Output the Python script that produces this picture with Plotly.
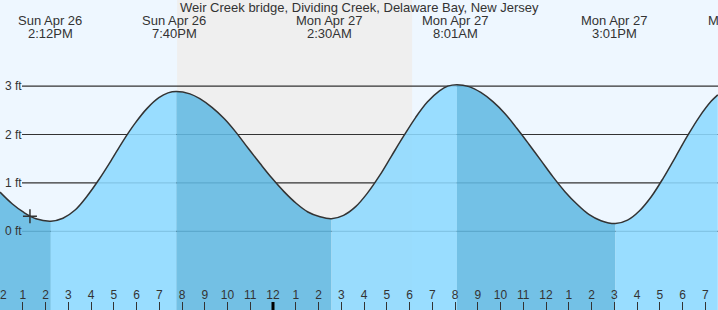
import plotly.graph_objects as go

# ---- data ----
title = "Weir Creek bridge, Dividing Creek, Delaware Bay, New Jersey"

times = [
    "2020-04-26 12:00", "2020-04-26 12:32", "2020-04-26 13:03", "2020-04-26 13:35",
    "2020-04-26 14:14", "2020-04-26 14:46", "2020-04-26 15:18", "2020-04-26 15:49",
    "2020-04-26 16:21", "2020-04-26 16:53", "2020-04-26 17:24", "2020-04-26 17:56",
    "2020-04-26 18:28", "2020-04-26 18:59", "2020-04-26 19:23", "2020-04-26 19:45",
    "2020-04-26 20:21", "2020-04-26 20:47", "2020-04-26 21:19", "2020-04-26 21:51",
    "2020-04-26 22:22", "2020-04-26 22:54", "2020-04-26 23:26", "2020-04-26 23:57",
    "2020-04-27 00:29", "2020-04-27 01:01", "2020-04-27 01:32", "2020-04-27 02:04",
    "2020-04-27 02:34", "2020-04-27 03:06", "2020-04-27 03:38", "2020-04-27 04:09",
    "2020-04-27 04:41", "2020-04-27 05:12", "2020-04-27 05:44", "2020-04-27 06:16",
    "2020-04-27 06:47", "2020-04-27 07:19", "2020-04-27 07:41", "2020-04-27 08:05",
    "2020-04-27 08:37", "2020-04-27 09:08", "2020-04-27 09:40", "2020-04-27 10:12",
    "2020-04-27 10:43", "2020-04-27 11:15", "2020-04-27 11:47", "2020-04-27 12:18",
    "2020-04-27 12:50", "2020-04-27 13:22", "2020-04-27 13:53", "2020-04-27 14:25",
    "2020-04-27 15:03", "2020-04-27 15:35", "2020-04-27 16:06", "2020-04-27 16:38",
    "2020-04-27 17:10", "2020-04-27 17:41", "2020-04-27 18:13", "2020-04-27 18:44",
    "2020-04-27 19:16", "2020-04-27 19:33",
]
heights = [
    0.81, 0.57, 0.39, 0.26,
    0.21, 0.27, 0.44, 0.72,
    1.07, 1.46, 1.86, 2.23,
    2.54, 2.76, 2.86, 2.89,
    2.84, 2.74, 2.56, 2.33,
    2.05, 1.72, 1.40, 1.10,
    0.82, 0.58, 0.40, 0.30,
    0.26, 0.33, 0.51, 0.79,
    1.15, 1.55, 1.96, 2.35,
    2.67, 2.90, 3.00, 3.03,
    2.99, 2.87, 2.68, 2.43,
    2.13, 1.80, 1.46, 1.13,
    0.82, 0.56, 0.35, 0.22,
    0.16, 0.23, 0.42, 0.72,
    1.11, 1.53, 1.97, 2.36,
    2.69, 2.82,
]

# tide extremes (labels at top)
extreme_times = ["2020-04-26 14:12", "2020-04-26 19:40", "2020-04-27 02:30",
                 "2020-04-27 08:01", "2020-04-27 15:01"]
extreme_day = ["Sun Apr 26", "Sun Apr 26", "Mon Apr 27", "Mon Apr 27", "Mon Apr 27"]
extreme_clock = ["2:12PM", "7:40PM", "2:30AM", "8:01AM", "3:01PM"]
next_extreme_hours = 44.6           # hours after 2020-04-26 00:00 (off chart, right)
next_extreme_day = "Mon Apr 27"
next_extreme_clock = "8:36PM"

now_time = "2020-04-26 13:19"
now_height = 0.31

sunset = "2020-04-26 19:47"
sunrise = "2020-04-27 06:07"

levels = [0, 1, 2, 3]
level_labels = ["0 ft", "1 ft", "2 ft", "3 ft"]

x_start_hours, x_end_hours = 12.0, 43.56
x_range = ["2020-04-26 12:00", "2020-04-27 19:33:36"]
y_range = [-1.625, 4.779]

# ---- styles ----
day_bg = "#EEF7FF"
night_bg = "#EFEFEF"
rise_fill = "rgba(141,218,255,0.88)"
fall_fill = "rgba(98,186,227,0.88)"
ink = "#333333"
font_family = "Liberation Sans, Arial, sans-serif"
W, H = 718, 310

fig = go.Figure()

# split the series at its local extremes (high / low water)
cut_idx = [0]
for i in range(1, len(heights) - 1):
    if (heights[i] - heights[i - 1]) * (heights[i + 1] - heights[i]) < 0:
        cut_idx.append(i)
cut_idx.append(len(heights) - 1)

for a, b in zip(cut_idx[:-1], cut_idx[1:]):
    xs = times[a:b + 1]
    ys = heights[a:b + 1]
    color = fall_fill if ys[-1] < ys[0] else rise_fill
    fig.add_trace(go.Scatter(x=[xs[0], xs[-1]], y=[y_range[0], y_range[0]],
                             mode="lines", line=dict(width=0), hoverinfo="skip"))
    fig.add_trace(go.Scatter(x=xs, y=ys, mode="lines", fill="tonexty",
                             fillcolor=color, line=dict(width=0, shape="spline"),
                             hoverinfo="skip"))

# tide curve
fig.add_trace(go.Scatter(x=times, y=heights, mode="lines",
                         line=dict(color=ink, width=1.5, shape="spline")))

# current-time marker
fig.add_trace(go.Scatter(x=[now_time], y=[now_height], mode="markers",
                         marker=dict(symbol="cross-thin", size=10,
                                     line=dict(color=ink, width=1.5))))

shapes = [
    dict(type="rect", xref="x", yref="paper", x0=sunset, x1=sunrise, y0=0, y1=1,
         fillcolor=night_bg, line=dict(width=0), layer="below"),
]
for lv in levels:
    shapes.append(dict(type="line", xref="paper", yref="y", x0=22 / W, x1=1,
                       y0=lv, y1=lv, line=dict(color=ink, width=1.2), layer="below"))
shapes.append(dict(type="line", xref="x", yref="paper", x0="2020-04-27 00:00",
                   x1="2020-04-27 00:00", y0=0, y1=8 / H,
                   line=dict(color="#000000", width=3)))

ann = [dict(text=title, xref="paper", yref="paper", x=0.5, y=1 - 8 / H,
            xanchor="center", yanchor="middle", showarrow=False,
            font=dict(size=13, color=ink, family=font_family))]
for t, d, c in zip(extreme_times, extreme_day, extreme_clock):
    ann.append(dict(text=d, xref="x", yref="paper", x=t, y=1 - 20.5 / H,
                    xanchor="center", yanchor="middle", showarrow=False,
                    font=dict(size=13, color=ink, family=font_family)))
    ann.append(dict(text=c, xref="x", yref="paper", x=t, y=1 - 33.5 / H,
                    xanchor="center", yanchor="middle", showarrow=False,
                    font=dict(size=13, color=ink, family=font_family)))
nx = (next_extreme_hours - x_start_hours) / (x_end_hours - x_start_hours)
ann.append(dict(text=next_extreme_day, xref="paper", yref="paper", x=nx, y=1 - 20.5 / H,
                xanchor="center", yanchor="middle", showarrow=False,
                font=dict(size=13, color=ink, family=font_family)))
ann.append(dict(text=next_extreme_clock, xref="paper", yref="paper", x=nx, y=1 - 33.5 / H,
                xanchor="center", yanchor="middle", showarrow=False,
                font=dict(size=13, color=ink, family=font_family)))
for lv, lab in zip(levels, level_labels):
    ann.append(dict(text=lab, xref="paper", yref="y", x=3 / W, y=lv,
                    xanchor="left", yanchor="middle", showarrow=False,
                    font=dict(size=12, color=ink, family=font_family)))

fig.update_layout(
    width=W, height=H, margin=dict(l=0, r=0, t=0, b=0, pad=0, autoexpand=False),
    paper_bgcolor=day_bg, plot_bgcolor=day_bg, showlegend=False,
    shapes=shapes, annotations=ann,
    xaxis=dict(type="date", range=x_range, tick0="2020-04-26 00:00", dtick=3600000,
               tickformat="%-I", ticks="inside", ticklen=8, tickwidth=1, tickcolor=ink,
               ticklabelposition="inside", ticklabeloverflow="allow",
               tickfont=dict(size=12, color=ink, family=font_family),
               showgrid=False, zeroline=False, showline=False, fixedrange=True,
               automargin=False),
    yaxis=dict(range=y_range, showgrid=False, zeroline=False, showticklabels=False,
               showline=False, fixedrange=True, automargin=False),
    hovermode=False,
)

fig.write_html("out.html")
